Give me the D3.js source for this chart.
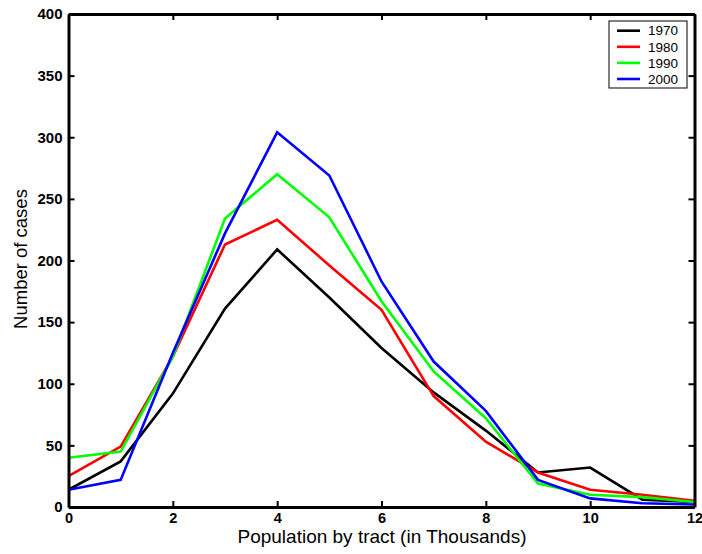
<!DOCTYPE html>
<html>
<head>
<meta charset="utf-8">
<script src="https://cdn.jsdelivr.net/npm/d3@7"></script>
<style>
  body { margin: 0; background: #fff; }
  svg { display: block; font-family: "Liberation Sans", Arial, sans-serif; }
</style>
</head>
<body>
<svg id="chart" width="702" height="554"></svg>
<script>
// data
const xValues = [0, 1, 2, 3, 4, 5, 6, 7, 8, 9, 10, 11, 12];
const years = ["1970", "1980", "1990", "2000"];
const colors = ["#000000", "#ff0000", "#00ff00", "#0000ff"];
const cases1970 = [14, 37, 92, 161, 209, 170, 129, 93, 62, 28, 32, 6, 4];
const cases1980 = [25, 49, 122, 213, 233, 196, 160, 90, 53, 28, 14, 10, 5];
const cases1990 = [40, 45, 122, 234, 270, 235, 167, 110, 72, 19, 10, 8, 4];
const cases2000 = [14, 22, 125, 222, 304, 269, 183, 118, 78, 22, 7, 3, 2];
const xTicks = [0, 2, 4, 6, 8, 10, 12];
const yTicks = [0, 50, 100, 150, 200, 250, 300, 350, 400];

const series = [cases1970, cases1980, cases1990, cases2000];

const plotLeft = 68.5, plotRight = 694.5, plotTop = 14, plotBottom = 507;

const svg = d3.select("#chart");

const xScale = d3.scaleLinear().domain([0, 12]).range([plotLeft, plotRight]);
const yScale = d3.scaleLinear().domain([0, 400]).range([plotBottom, plotTop]);

// lines
const line = d3.line()
  .x((d, i) => xScale(xValues[i]))
  .y(d => yScale(d));

svg.append("g")
  .selectAll("path")
  .data(series)
  .join("path")
  .attr("d", d => line(d))
  .attr("fill", "none")
  .attr("stroke", (d, i) => colors[i])
  .attr("stroke-width", 2.6)
  .attr("stroke-linejoin", "miter");

// axes, ticks pointing inward like matlab
const tickLen = 6;
function styleAxis(g, size) {
  g.select(".domain").attr("stroke", "#000").attr("stroke-width", 3);
  g.selectAll(".tick line").attr("stroke", "#000").attr("stroke-width", 2);
  g.selectAll(".tick text")
    .attr("fill", "#000")
    .style("font-size", (size || 15) + "px")
    .style("font-weight", "bold")
    .style("font-family", "'Liberation Sans', Arial, sans-serif");
}

svg.append("g")
  .attr("transform", `translate(0,${plotBottom})`)
  .call(d3.axisBottom(xScale).tickValues(xTicks).tickSize(-tickLen).tickSizeOuter(0).tickPadding(6))
  .call(styleAxis, 14.5);

svg.append("g")
  .attr("transform", `translate(0,${plotTop})`)
  .call(d3.axisTop(xScale).tickValues(xTicks).tickSize(-tickLen).tickSizeOuter(0).tickFormat(""))
  .call(styleAxis);

svg.append("g")
  .attr("transform", `translate(${plotLeft},0)`)
  .call(d3.axisLeft(yScale).tickValues(yTicks).tickSize(-tickLen).tickSizeOuter(0).tickPadding(6))
  .call(styleAxis);

svg.append("g")
  .attr("transform", `translate(${plotRight},0)`)
  .call(d3.axisRight(yScale).tickValues(yTicks).tickSize(-tickLen).tickSizeOuter(0).tickFormat(""))
  .call(styleAxis);

// axis titles
svg.append("text")
  .attr("x", 382)
  .attr("y", 543)
  .attr("text-anchor", "middle")
  .style("font-size", "19px")
  .text("Population by tract (in Thousands)");

svg.append("text")
  .attr("transform", "translate(26.5,259) rotate(-90)")
  .attr("text-anchor", "middle")
  .style("font-size", "18.5px")
  .text("Number of cases");

// legend
const legend = svg.append("g").attr("transform", "translate(609,21)");
legend.append("rect")
  .attr("width", 78).attr("height", 67)
  .attr("fill", "#fff").attr("stroke", "#000").attr("stroke-width", 1);

const items = legend.selectAll("g.item")
  .data(years)
  .join("g")
  .attr("class", "item")
  .attr("transform", (d, i) => `translate(0,${9.7 + i * 16.1})`);

items.append("line")
  .attr("x1", 8).attr("x2", 31)
  .attr("stroke", (d, i) => colors[i])
  .attr("stroke-width", 2.6);

items.append("text")
  .attr("x", 39)
  .attr("dy", "0.35em")
  .style("font-size", "13.5px")
  .text(d => d);
</script>
</body>
</html>
